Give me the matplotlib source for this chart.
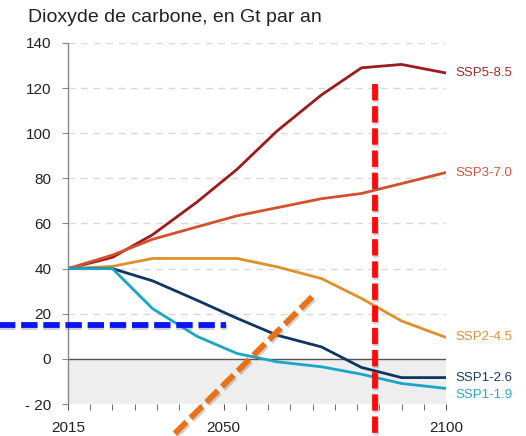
import matplotlib
matplotlib.use("Agg")
import matplotlib.pyplot as plt
import matplotlib.patheffects as pe

plt.rcParams['font.family'] = ['Liberation Sans', 'DejaVu Sans']

# x positions of the scenario points along the 2015-2100 axis
years = [2015, 2025, 2034, 2044, 2053, 2062, 2072, 2081, 2090, 2100]

ssp585 = [40, 45, 55, 69.5, 84, 101, 117, 129, 130.5, 126.7]
ssp370 = [40, 46, 53, 58.5, 63.4, 67, 71, 73.3, 77.7, 82.6]
ssp245 = [40, 41, 44.5, 44.5, 44.5, 40.8, 35.6, 26.8, 16.8, 9.5]
ssp126 = [40, 40, 34.6, 26, 18, 10.5, 5.3, -3.8, -8.3, -8.3]
ssp119 = [40, 40, 22.3, 10, 2.4, -1.3, -3.5, -6.8, -10.9, -13.1]

series = [
    ("SSP5-8.5", ssp585, "#9e1b1b", "#a8282a", 0),
    ("SSP3-7.0", ssp370, "#d4502c", "#d2553a", 0),
    ("SSP2-4.5", ssp245, "#e0902a", "#e0923a", 0),
    ("SSP1-2.6", ssp126, "#0e3566", "#1e3a5f", 0),
    ("SSP1-1.9", ssp119, "#1aa6c9", "#27a8cf", -5),
]

yticks = [-20, 0, 20, 40, 60, 80, 100, 120, 140]
ytick_labels = ["- 20", "0", "20", "40", "60", "80", "100", "120", "140"]
xticks_major = [2015, 2050, 2100]

# highlight strokes laid over the chart (x in years, y in Gt)
red_mark = ([2084, 2084], [122, -40])
blue_mark = ([1999, 2050.5], [15.2, 15.2])
orange_mark = ([2069.9, 2035.5], [27.5, -40])

fig = plt.figure(figsize=(5.26, 4.36), dpi=100)
ax = fig.add_axes([68 / 526, 32 / 436, 378 / 526, 361 / 436])
ax.set_xlim(2015, 2100)
ax.set_ylim(-20, 140)

ax.axhspan(-20, 0, color="#eeeeee", zorder=0)
for v in yticks[2:]:
    ax.axhline(v, color="#d9d9d9", lw=1, ls=(0, (5, 4)), zorder=1)
ax.axhline(0, color="#555555", lw=1, zorder=2)

for name, vals, col, lcol, dy in series:
    ax.plot(years, vals, color=col, lw=2.0, zorder=3, solid_capstyle="round")
    ax.annotate(name, (years[-1], vals[-1]), xytext=(7, dy),
                textcoords="offset points", va="center", ha="left",
                fontsize=9.5, color=lcol, annotation_clip=False)

for s in ["top", "right", "bottom"]:
    ax.spines[s].set_visible(False)
ax.spines["left"].set_color("#888888")
ax.spines["left"].set_linewidth(1)

ax.set_yticks(yticks)
ax.set_yticklabels(ytick_labels, fontsize=11, color="#222222")
ax.tick_params(axis="y", length=4, color="#888888", pad=8)
ax.set_xticks(xticks_major)
ax.set_xticks(range(2015, 2101, 5), minor=True)
ax.set_xticklabels([str(x) for x in xticks_major], fontsize=11, color="#222222")
ax.tick_params(axis="x", which="both", length=4, color="#555555", pad=8)

fig.text(28 / 526, 1 - 17 / 436, "Dioxyde de carbone, en Gt par an",
         fontsize=14, color="#222222", va="center", ha="left")

shadow = [pe.SimpleLineShadow(offset=(1, -1.5), shadow_color="#777777", alpha=0.35),
          pe.Normal()]
for (xs, ys), col in [(red_mark, "#ff0a0a"), (blue_mark, "#0a14f5"),
                      (orange_mark, "#ea7216")]:
    ax.plot(xs, ys, color=col, lw=4.2, ls=(0, (2.8, 1.0)), dash_capstyle="butt",
            clip_on=False, zorder=5, path_effects=shadow)

fig.savefig("out.png", dpi=100)
